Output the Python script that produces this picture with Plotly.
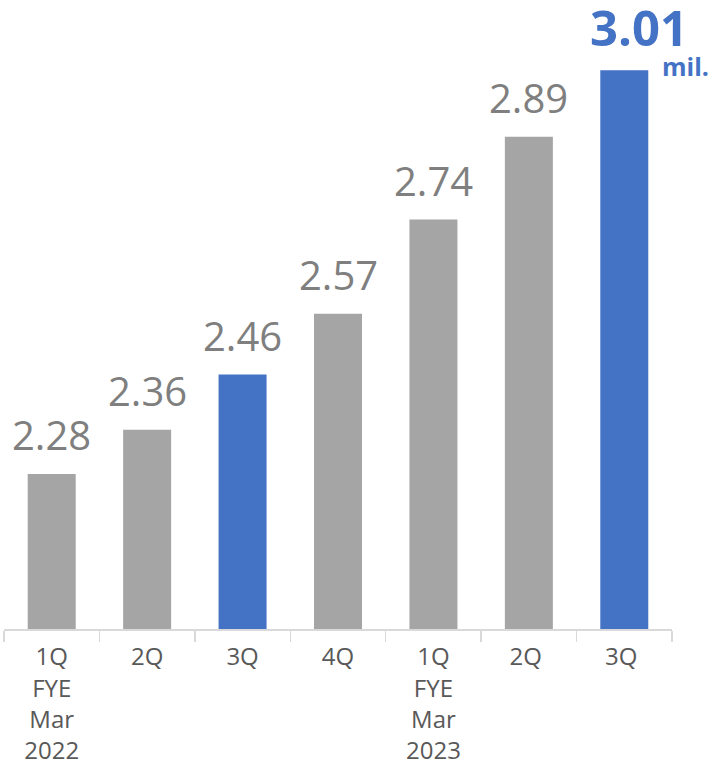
import plotly.graph_objects as go

categories = ["1Q<br>FYE<br>Mar<br>2022", "2Q", "3Q", "4Q", "1Q<br>FYE<br>Mar<br>2023", "2Q ", "3Q "]
values = [2.28, 2.36, 2.46, 2.57, 2.74, 2.89, 3.01]
highlight = [False, False, True, False, False, False, True]
value_labels = ["2.28", "2.36", "2.46", "2.57", "2.74", "2.89", "3.01"]
unit_label = "mil."

GRAY = "#a5a5a5"
BLUE = "#4472c4"
colors = [BLUE if h else GRAY for h in highlight]

fig = go.Figure()
fig.add_trace(go.Bar(
    x=categories, y=values, marker=dict(color=colors, line=dict(width=0)),
    hoverinfo="skip",
))

FONT = "Open Sans"
for i, (c, v, t) in enumerate(zip(categories, values, value_labels)):
    if i == len(values) - 1:
        fig.add_annotation(x=c, y=v, text=f"<b>{t}</b>", showarrow=False,
                           xanchor="center", yanchor="bottom", xshift=15, yshift=8,
                           font=dict(family=FONT, size=49, color=BLUE))
        fig.add_annotation(x=c, y=v, text=f"<b>{unit_label}</b>", showarrow=False,
                           xanchor="left", yanchor="middle", xshift=36, yshift=4,
                           font=dict(family=FONT, size=25, color=BLUE))
    else:
        fig.add_annotation(x=c, y=v, text=t, showarrow=False,
                           xanchor="center", yanchor="bottom", yshift=10,
                           font=dict(family=FONT, size=40, color="#7f7f7f"))

fig.update_layout(
    width=714, height=774,
    margin=dict(l=4, r=42, t=0, b=145, autoexpand=False),
    plot_bgcolor="white", paper_bgcolor="white",
    bargap=0.497,
    showlegend=False,
    font=dict(family=FONT),
)
fig.update_xaxes(
    type="category", range=[-0.5, len(categories) - 0.5], automargin=False,
    showline=True, linecolor="#d9d9d9", linewidth=1.5,
    ticks="outside", tickson="boundaries", ticklen=11, tickcolor="#d9d9d9", tickwidth=1.5,
    tickfont=dict(family=FONT, size=24, color="#595959"),
    ticklabelstandoff=6,
    showgrid=False,
)
fig.update_yaxes(range=[2.0, 3.137], visible=False, showgrid=False, automargin=False)

fig.write_html(
    "out.html",
    config={"displayModeBar": False, "staticPlot": True},
    post_script="document.body.style.margin='0';document.body.style.overflow='hidden';",
)
